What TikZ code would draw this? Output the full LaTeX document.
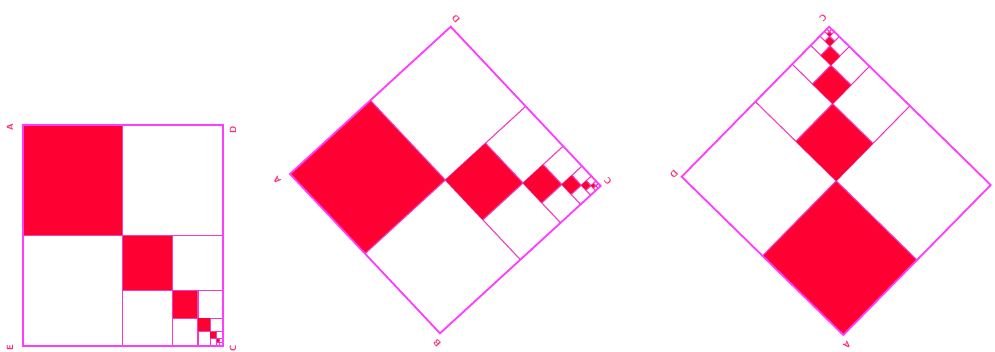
\documentclass[tikz,border=0pt]{standalone}
\definecolor{fillred}{RGB}{255,0,51}
\definecolor{edgemag}{RGB}{255,60,255}
\definecolor{innerpink}{RGB}{240,60,190}
\definecolor{labelred}{RGB}{255,40,110}
\tikzset{
  outer/.style={draw=edgemag,line width=1.8pt,line join=miter},
  inner/.style={draw=innerpink,line width=1.1pt},
  cell/.style={fill=fillred},
  lbl/.style={text=labelred,font=\sffamily\bfseries\fontsize{9}{9}\selectfont,inner sep=0pt},
}
\newcommand{\fracsquare}{%
  \foreach \k in {0,...,5}{%
    \pgfmathsetmacro{\h}{2^(-\k)}%
    \pgfmathsetmacro{\s}{1-\h}%
    \pgfmathsetmacro{\m}{\s+\h/2}%
    \fill[cell] (\s,\s)--(\m,\s)--(\m,\m)--(\s,\m)--cycle;
    \draw[inner] (\m,\s)--(\m,1) (\s,\m)--(1,\m);
  }%
  \draw[outer] (0,0)--(1,0)--(1,1)--(0,1)--cycle;
}
\begin{document}
\begin{tikzpicture}[x=1pt,y=-1pt]
\useasboundingbox (0,0) rectangle (995,351);
\fill[white] (0,0) rectangle (995,351);
% panel 1
\begin{scope}[shift={(22.7,125.3)},x={(200.3pt,0pt)},y={(0pt,-220.4pt)}]
  \fracsquare
\end{scope}
\node[lbl,rotate=90] (a1) at (10,127) {A};
\node[lbl,rotate=90] (d1) at (233,130) {D};
\node[lbl,rotate=90] (e1) at (10,348) {E};
\node[lbl,rotate=90] (c1) at (233,348) {C};
% panel 2
\begin{scope}[shift={(290,174)},x={(160.7pt,147.3pt)},y={(150pt,-159.3pt)}]
  \fracsquare
\end{scope}
\node[lbl,rotate=132] (d2) at (456,19) {D};
\node[lbl,rotate=132] (a2) at (277,180) {A};
\node[lbl,rotate=132] (c2) at (608,181) {C};
\node[lbl,rotate=132] (b2) at (437,343) {B};
% panel 3
\begin{scope}[shift={(843.3,335)},x={(-161.6pt,158.3pt)},y={(147.4pt,150pt)}]
  \fracsquare
\end{scope}
\node[lbl,rotate=225] (c3) at (823,18) {C};
\node[lbl,rotate=225] (d3) at (674,174) {D};
\node[lbl,rotate=225] (a3) at (847,345) {A};
\end{tikzpicture}
\end{document}
